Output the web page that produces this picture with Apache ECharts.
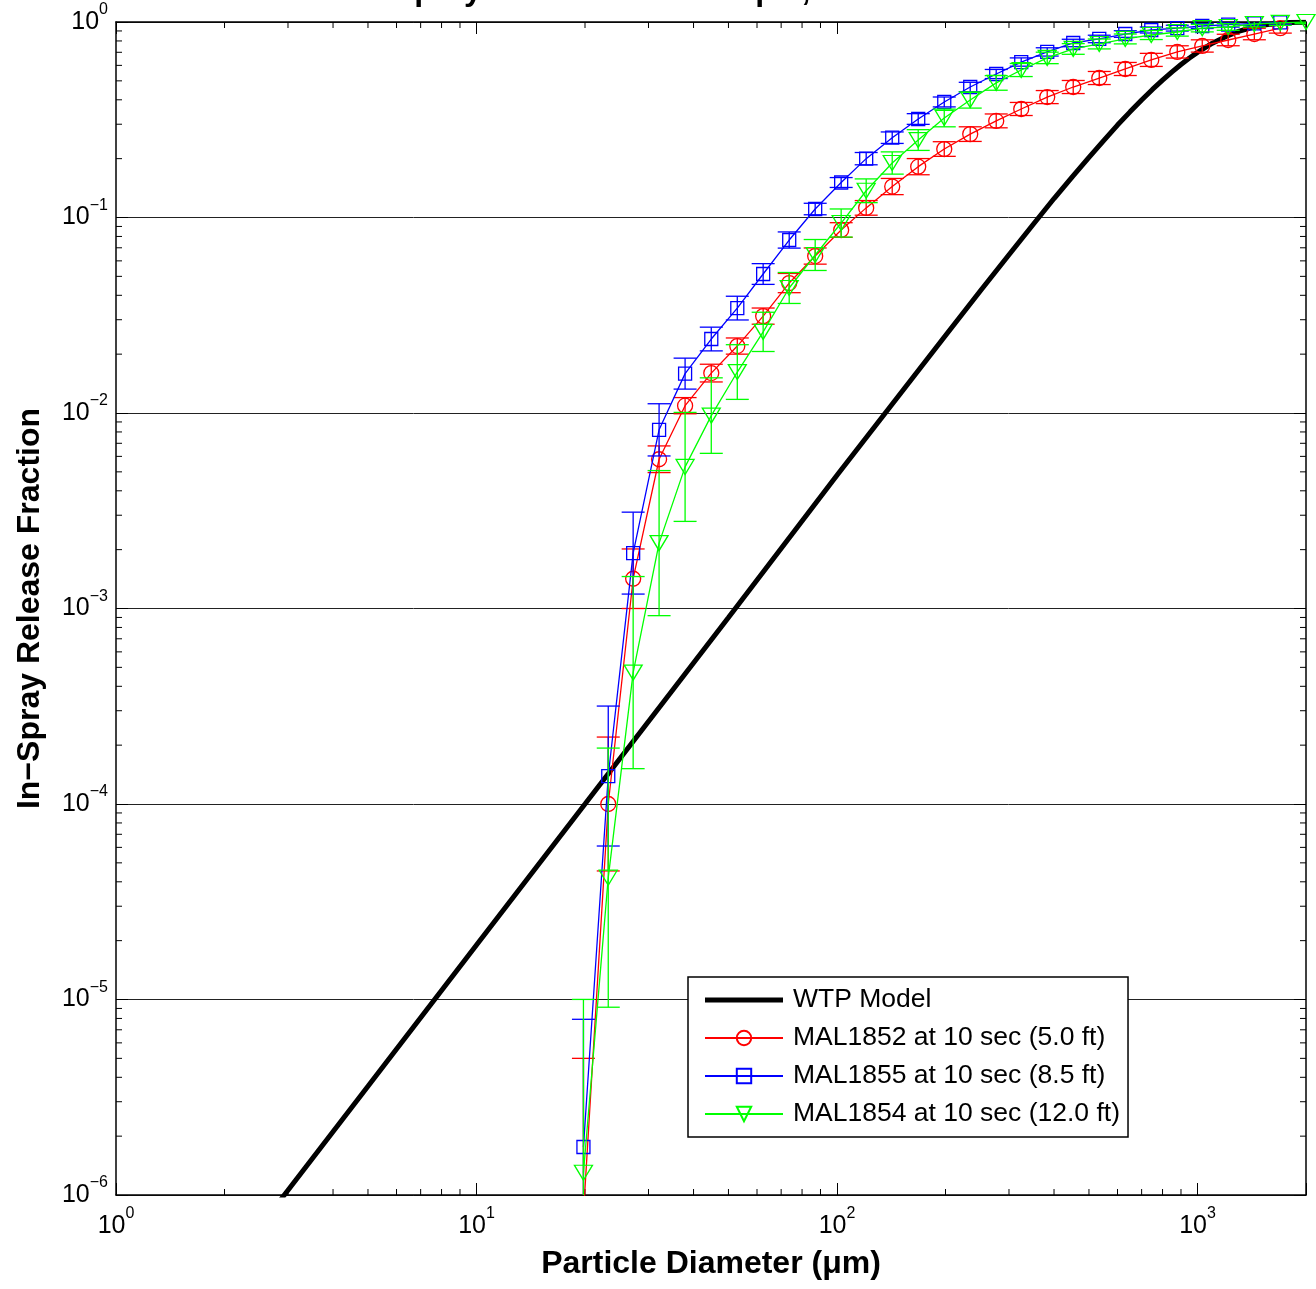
<!DOCTYPE html>
<html><head><meta charset="utf-8">
<script src="https://cdn.jsdelivr.net/npm/echarts@6/dist/echarts.min.js"></script>
<style>html,body{margin:0;padding:0;background:#fff}#c{width:1316px;height:1289px}</style>
</head><body><div id="c"></div>
<script>
// ---------- data ----------
const titleText = 'Spray Test 1 mm at 380 psi, 6 Pa at 10 sec';
const xName = 'Particle Diameter (\u03bcm)';
const yName = 'In\u2212Spray Release Fraction';
const seriesNames = ['WTP Model', 'MAL1852 at 10 sec (5.0 ft)', 'MAL1855 at 10 sec (8.5 ft)', 'MAL1854 at 10 sec (12.0 ft)'];

// particle diameter bins (um)
const diameters = [19.8, 23.2, 27.2, 32.1, 37.9, 44.8, 52.9, 62.4, 73.7, 87.0, 102.7, 120.5, 142.3, 168.0,
  198.4, 234.2, 276.5, 324.4, 383.0, 452.2, 534.0, 630.5, 744.4, 879.0, 1031, 1217, 1438, 1697, 2000];

// WTP model curve
const wtpX = [2.5, 2.93, 5, 10, 20, 50, 100, 200, 250, 300, 350, 400, 450, 500, 550, 600, 650, 700, 750, 800,
  850, 900, 950, 1000, 1100, 1200, 1300, 1400, 1500, 1600, 1800, 2000];
const wtpY = [6.8e-7, 1.0e-6, 3.6e-6, 1.9e-5, 1.0e-4, 9.0e-4, 4.8e-3, 0.0249, 0.0422, 0.0645, 0.0921, 0.125, 0.162,
  0.203, 0.248, 0.297, 0.347, 0.399, 0.452, 0.504, 0.556, 0.606, 0.654, 0.699, 0.779, 0.844, 0.895, 0.932, 0.958,
  0.975, 0.993, 0.998];

// MAL1852 (red) values and multiplicative error factors
const mal1852 = [8.0e-7, 1.0e-4, 1.42e-3, 5.8e-3, 0.0109, 0.016, 0.022, 0.0313, 0.0462, 0.0635, 0.0863, 0.112, 0.144,
  0.182, 0.224, 0.267, 0.312, 0.359, 0.413, 0.465, 0.517, 0.575, 0.64, 0.703, 0.754, 0.809, 0.868, 0.93];
const mal1852Err = [6.25, 2.2, 1.42, 1.17, 1.1, 1.11, 1.1, 1.1, 1.12, 1.1, 1.09, 1.09, 1.1, 1.1, 1.09, 1.09, 1.085,
  1.08, 1.08, 1.08, 1.08, 1.08, 1.08, 1.075, 1.075, 1.07, 1.07, 1.06];

// MAL1855 (blue)
const mal1855 = [1.76e-6, 1.39e-4, 1.92e-3, 8.2e-3, 0.0159, 0.0239, 0.0344, 0.0514, 0.0767, 0.1105, 0.151, 0.2, 0.256,
  0.319, 0.39, 0.465, 0.542, 0.624, 0.703, 0.781, 0.819, 0.868, 0.91, 0.93, 0.954, 0.97, 0.985, 0.995];
const mal1855Err = [4.5, 2.28, 1.62, 1.36, 1.2, 1.15, 1.15, 1.13, 1.1, 1.07, 1.06, 1.075, 1.07, 1.065, 1.06, 1.057,
  1.055, 1.05, 1.05, 1.045, 1.045, 1.04, 1.036, 1.035, 1.03, 1.03, 1.025, 1.02];

// MAL1854 (green)
const mal1854 = [1.3e-6, 4.2e-5, 4.7e-4, 2.16e-3, 5.3e-3, 9.7e-3, 0.0162, 0.026, 0.0436, 0.0643, 0.0937, 0.137, 0.19,
  0.249, 0.323, 0.399, 0.488, 0.568, 0.655, 0.728, 0.772, 0.819, 0.858, 0.889, 0.93, 0.943, 0.977, 0.99, 1.0];
const mal1854Err = [7.7, 4.6, 3.1, 2.35, 1.9, 1.56, 1.38, 1.26, 1.2, 1.2, 1.18, 1.15, 1.14, 1.13, 1.11, 1.1, 1.09,
  1.08, 1.07, 1.065, 1.06, 1.06, 1.055, 1.05, 1.045, 1.04, 1.035, 1.03, 1.02];

// axis ranges
const X_MIN = 1, X_MAX = 2000, Y_MIN = 1e-6, Y_MAX = 1;

// ---------- chart ----------
const FONT = '"Liberation Sans", Arial, Helvetica, sans-serif';
const RED = '#ff0000', BLUE = '#0000ff', GREEN = '#00ff00';

function pairs(xs, ys) { return ys.map((y, i) => [xs[i], y]); }
function errData(xs, ys, fs) { return ys.map((y, i) => [xs[i], y / fs[i], y * fs[i]]); }

function decadeLabel(v) {
  const e = Math.log10(v);
  const r = Math.round(e);
  if (Math.abs(e - r) > 1e-6) return '';
  return '{b|10}{e|' + (r < 0 ? '\u2212' + (-r) : String(r)) + '}';
}
const labelRich = {
  b: { fontSize: 25, lineHeight: 40, fontFamily: FONT, color: '#000' },
  e: { fontSize: 16, lineHeight: 16, fontFamily: FONT, color: '#000', verticalAlign: 'top' }
};

const xMinor = [];
for (let d = 0; d <= 3; d++) for (let k = 2; k <= 9; k++) { const v = k * Math.pow(10, d); if (v < X_MAX) xMinor.push([v, Y_MIN]); }
const yMinor = [];
for (let d = -6; d <= -1; d++) for (let k = 2; k <= 9; k++) { yMinor.push([X_MIN, k * Math.pow(10, d)]); }

function errRender(color) {
  return function (params, api) {
    const x = api.value(0), lo = api.value(1), hi = api.value(2);
    const a = api.coord([x, hi]), b = api.coord([x, lo]);
    const w = 11.5, st = { stroke: color, lineWidth: 1.3 };
    return { type: 'group', children: [
      { type: 'line', shape: { x1: a[0], y1: a[1], x2: b[0], y2: b[1] }, style: st },
      { type: 'line', shape: { x1: a[0] - w, y1: a[1], x2: a[0] + w, y2: a[1] }, style: st },
      { type: 'line', shape: { x1: b[0] - w, y1: b[1], x2: b[0] + w, y2: b[1] }, style: st }
    ] };
  };
}

const chart = echarts.init(document.getElementById('c'), null, { renderer: 'canvas' });

const baseX = { type: 'log', logBase: 10, min: X_MIN, max: X_MAX, gridIndex: 0 };
const baseY = { type: 'log', logBase: 10, min: Y_MIN, max: Y_MAX, gridIndex: 0 };
const axLine = { show: true, onZero: false, lineStyle: { color: '#000', width: 1.5 } };

const option = {
  animation: false,
  backgroundColor: '#fff',
  grid: { left: 116, right: 10, top: 22, bottom: 94, containLabel: false },
  graphic: [{
    type: 'text', x: 711, y: -25, silent: true,
    style: { text: titleText, font: 'bold 32px ' + FONT, fill: '#000', textAlign: 'center', textVerticalAlign: 'top' }
  }],
  legend: {
    orient: 'vertical', left: 688, top: 977,
    padding: [9, 8, 9, 16], itemGap: 10, itemWidth: 78, itemHeight: 18,
    borderColor: '#000', borderWidth: 1.5, backgroundColor: '#fff', borderRadius: 0,
    selectedMode: false,
    textStyle: { fontSize: 26.5, fontFamily: FONT, color: '#000', lineHeight: 28, padding: [0, 0, 0, 5] },
    data: [{ name: seriesNames[0], icon: 'path://M0 0H78V5H0Z' }, seriesNames[1], seriesNames[2], seriesNames[3]]
  },
  xAxis: [
    Object.assign({}, baseX, {
      position: 'bottom',
      name: xName, nameLocation: 'middle', nameGap: 53,
      nameTextStyle: { fontSize: 32, fontWeight: 'bold', fontFamily: FONT, color: '#000' },
      axisLine: axLine,
      axisTick: { show: true, inside: true, length: 12, lineStyle: { color: '#000', width: 1 } },
      axisLabel: { show: true, margin: 11, formatter: decadeLabel, rich: labelRich, showMinLabel: true, showMaxLabel: true },
      splitLine: { show: false }, minorTick: { show: false }
    }),
    Object.assign({}, baseX, {
      position: 'top',
      axisLine: axLine,
      axisTick: { show: true, inside: true, length: 12, lineStyle: { color: '#000', width: 1 } },
      axisLabel: { show: false }, splitLine: { show: false }
    })
  ],
  yAxis: [
    Object.assign({}, baseY, {
      position: 'left',
      name: yName, nameLocation: 'middle', nameGap: 70, nameRotate: 90,
      nameTextStyle: { fontSize: 32, fontWeight: 'bold', fontFamily: FONT, color: '#000' },
      axisLine: axLine,
      axisTick: { show: true, inside: true, length: 12, lineStyle: { color: '#000', width: 1 } },
      axisLabel: { show: true, margin: 8, formatter: decadeLabel, rich: labelRich, showMinLabel: true, showMaxLabel: true },
      splitLine: { show: true, lineStyle: { color: '#222', width: 1 } }
    }),
    Object.assign({}, baseY, {
      position: 'right',
      axisLine: axLine,
      axisTick: { show: true, inside: true, length: 12, lineStyle: { color: '#000', width: 1 } },
      axisLabel: { show: false }, splitLine: { show: false }
    })
  ],
  series: [
    {
      name: 'xMinorTicks', type: 'custom', xAxisIndex: 0, yAxisIndex: 0, silent: true, clip: false,
      data: xMinor,
      renderItem: function (params, api) {
        const x = api.value(0);
        const pb = api.coord([x, Y_MIN]), pt = api.coord([x, Y_MAX]);
        const st = { stroke: '#000', lineWidth: 1 };
        return { type: 'group', children: [
          { type: 'line', shape: { x1: pb[0], y1: pb[1], x2: pb[0], y2: pb[1] - 6 }, style: st },
          { type: 'line', shape: { x1: pt[0], y1: pt[1], x2: pt[0], y2: pt[1] + 6 }, style: st }
        ] };
      }
    },
    {
      name: 'yMinorTicks', type: 'custom', xAxisIndex: 0, yAxisIndex: 0, silent: true, clip: false,
      data: yMinor,
      renderItem: function (params, api) {
        const y = api.value(1);
        const pl = api.coord([X_MIN, y]), pr = api.coord([X_MAX, y]);
        const st = { stroke: '#000', lineWidth: 1 };
        return { type: 'group', children: [
          { type: 'line', shape: { x1: pl[0], y1: pl[1], x2: pl[0] + 6, y2: pl[1] }, style: st },
          { type: 'line', shape: { x1: pr[0], y1: pr[1], x2: pr[0] - 6, y2: pr[1] }, style: st }
        ] };
      }
    },
    {
      name: seriesNames[0], type: 'line', data: pairs(wtpX, wtpY), showSymbol: false, symbol: 'none',
      clip: true, z: 3,
      itemStyle: { color: '#000' },
      lineStyle: { color: '#000', width: 5 }
    },
    {
      name: 'err1852', type: 'custom', data: errData(diameters, mal1852, mal1852Err), clip: true, z: 4,
      encode: { x: 0, y: [1, 2] }, renderItem: errRender(RED), silent: true
    },
    {
      name: seriesNames[1], type: 'line', data: pairs(diameters, mal1852), clip: true, z: 4,
      symbol: 'circle', symbolSize: 15, showAllSymbol: true,
      itemStyle: { color: 'rgba(255,0,0,0)', borderColor: RED, borderWidth: 1.3 },
      lineStyle: { color: RED, width: 1.3 }
    },
    {
      name: 'err1855', type: 'custom', data: errData(diameters, mal1855, mal1855Err), clip: true, z: 5,
      encode: { x: 0, y: [1, 2] }, renderItem: errRender(BLUE), silent: true
    },
    {
      name: seriesNames[2], type: 'line', data: pairs(diameters, mal1855), clip: true, z: 5,
      symbol: 'rect', symbolSize: 13, showAllSymbol: true,
      itemStyle: { color: 'rgba(0,0,255,0)', borderColor: BLUE, borderWidth: 1.3 },
      lineStyle: { color: BLUE, width: 1.3 }
    },
    {
      name: 'err1854', type: 'custom', data: errData(diameters, mal1854, mal1854Err), clip: true, z: 6,
      encode: { x: 0, y: [1, 2] }, renderItem: errRender(GREEN), silent: true
    },
    {
      name: seriesNames[3], type: 'line', data: pairs(diameters, mal1854), clip: true, z: 6,
      symbol: 'triangle', symbolRotate: 180, symbolSize: [18, 15], showAllSymbol: true,
      itemStyle: { color: 'rgba(0,255,0,0)', borderColor: GREEN, borderWidth: 1.3 },
      lineStyle: { color: GREEN, width: 1.3 }
    }
  ]
};
chart.setOption(option);
</script>
</body></html>
